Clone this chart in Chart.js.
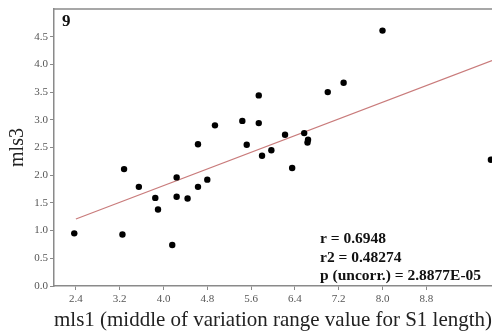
<!DOCTYPE html>
<html>
<head>
<meta charset="utf-8">
<script src="https://cdn.jsdelivr.net/npm/chart.js@4/dist/chart.umd.min.js"></script>
<style>
  html, body { margin: 0; padding: 0; background: #fff; overflow: hidden; }
  #wrap { width: 492px; height: 334px; }
</style>
</head>
<body>
<div id="wrap"><canvas id="scatter" width="492" height="334"></canvas></div>
<script>
// values
const mls1 = [2.37, 3.28, 3.25, 3.55, 3.85, 3.90, 4.24, 4.24, 4.16, 4.44, 4.63, 4.80,
  4.63, 4.94, 5.44, 5.52, 5.74, 5.74, 5.80, 5.97, 6.22, 6.35, 6.57, 6.64, 6.63,
  7.00, 7.29, 8.00, 9.98];
const mls3 = [0.95, 2.11, 0.93, 1.79, 1.59, 1.38, 1.96, 1.61, 0.74, 1.58, 1.79, 1.92,
  2.56, 2.90, 2.98, 2.55, 3.44, 2.94, 2.35, 2.45, 2.73, 2.13, 2.76, 2.64, 2.59,
  3.50, 3.67, 4.61, 2.28];
const fitX = [2.4, 10.0];
const fitY = [1.21, 4.07];
const xTicks = [2.4, 3.2, 4.0, 4.8, 5.6, 6.4, 7.2, 8.0, 8.8];
const yTicks = [0.0, 0.5, 1.0, 1.5, 2.0, 2.5, 3.0, 3.5, 4.0, 4.5];
const panelLabel = "9";
const stats = ["r = 0.6948", "r2 = 0.48274", "p (uncorr.) = 2.8877E-05"];

const serif = "'Liberation Serif', 'DejaVu Serif', serif";

const framePlugin = {
  id: "frame",
  afterDraw(chart) {
    const { ctx, chartArea } = chart;
    ctx.save();
    ctx.strokeStyle = "#8a8a8a";
    ctx.lineWidth = 1.5;
    ctx.beginPath();
    ctx.moveTo(chartArea.left, chartArea.top);
    ctx.lineTo(chartArea.right, chartArea.top);
    ctx.stroke();
    ctx.fillStyle = "#111";
    ctx.font = "bold 17px " + serif;
    ctx.textBaseline = "top";
    ctx.fillText(panelLabel, chartArea.left + 8, chartArea.top + 4);
    ctx.font = "bold 15.5px " + serif;
    ctx.textBaseline = "alphabetic";
    stats.forEach((s, i) => {
      ctx.fillText(s, 320, chartArea.bottom - 43 + i * 18.5);
    });
    ctx.restore();
  }
};

new Chart(document.getElementById("scatter"), {
  type: "scatter",
  data: {
    datasets: [
      {
        label: "points",
        data: mls1.map((x, i) => ({ x: x, y: mls3[i] })),
        backgroundColor: "#000",
        borderColor: "#000",
        borderWidth: 0,
        pointRadius: 3.2,
        pointHoverRadius: 3.2
      },
      {
        type: "line",
        label: "fit",
        data: fitX.map((x, i) => ({ x: x, y: fitY[i] })),
        borderColor: "#c97b7b",
        borderWidth: 1.2,
        pointRadius: 0,
        fill: false
      }
    ]
  },
  options: {
    responsive: false,
    animation: false,
    layout: { autoPadding: false, padding: { top: 9, right: 0, left: 0, bottom: 0 } },
    plugins: { legend: { display: false }, tooltip: { enabled: false } },
    scales: {
      x: {
        type: "linear",
        min: 2.0,
        max: 10.0,
        afterBuildTicks: (s) => { s.ticks = xTicks.map(v => ({ value: v })); },
        afterFit: (s) => { s.height = 48; },
        border: { color: "#8a8a8a", width: 1.5 },
        grid: { drawOnChartArea: false, drawTicks: true, tickLength: 4, color: "#8a8a8a" },
        ticks: {
          autoSkip: false,
          maxRotation: 0,
          padding: 3,
          color: "#555",
          font: { family: serif, size: 11 },
          callback: (v) => v.toFixed(1)
        },
        title: {
          display: true,
          text: "mls1 (middle of variation range value for S1 length)",
          color: "#222",
          font: { family: serif, size: 21 },
          padding: { top: 2, bottom: 1 }
        }
      },
      y: {
        min: 0,
        max: 5.0,
        afterBuildTicks: (s) => { s.ticks = yTicks.map(v => ({ value: v })); },
        afterFit: (s) => { s.width = 54; },
        border: { color: "#8a8a8a", width: 1.5 },
        grid: { drawOnChartArea: false, drawTicks: true, tickLength: 4, color: "#8a8a8a" },
        ticks: {
          padding: 2,
          color: "#555",
          font: { family: serif, size: 11 },
          callback: (v) => v.toFixed(1)
        },
        title: {
          display: true,
          text: "mls3",
          color: "#222",
          font: { family: serif, size: 20 },
          padding: { top: 6, bottom: 0 }
        }
      }
    }
  },
  plugins: [framePlugin]
});
</script>
</body>
</html>
